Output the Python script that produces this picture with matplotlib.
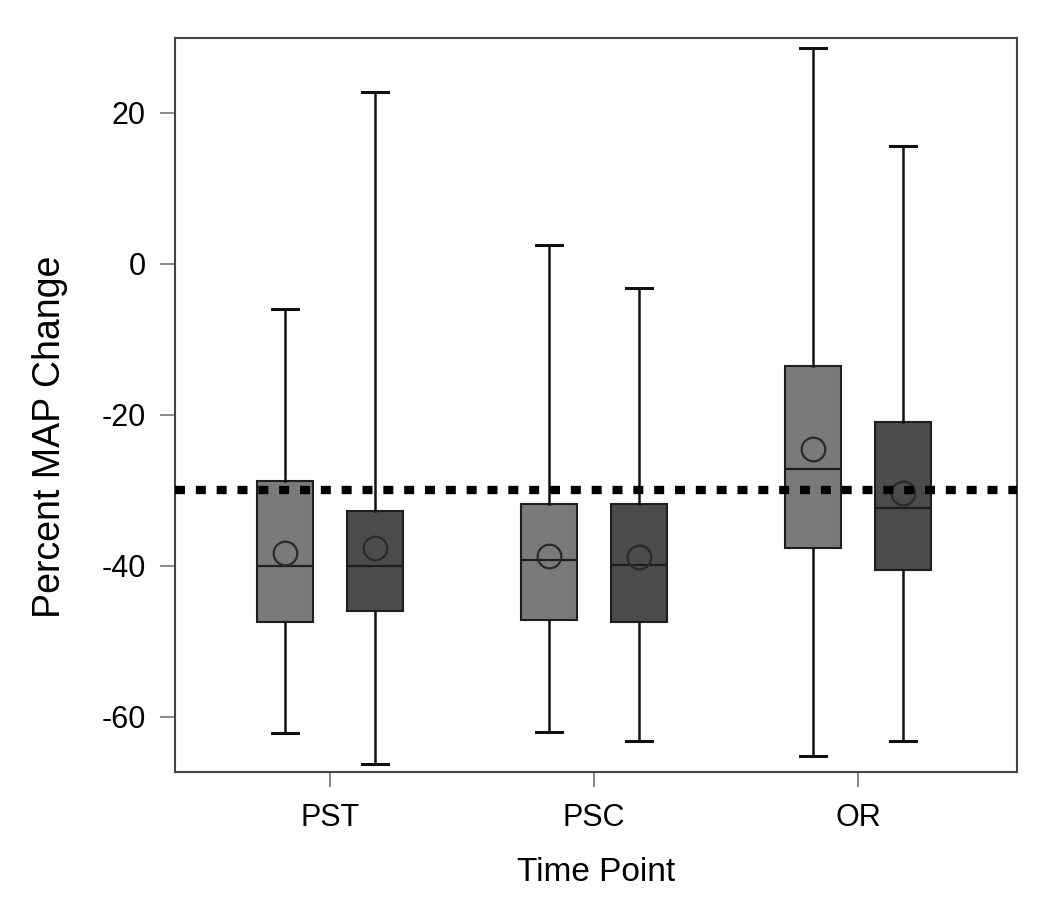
import matplotlib
matplotlib.use("Agg")
import matplotlib.pyplot as plt

plt.rcParams['font.family'] = ['Liberation Sans', 'DejaVu Sans']

categories = ["PST", "PSC", "OR"]
# group A (left, lighter) and group B (right, darker)
a_whislo = [-62.1, -62.0, -65.2]
a_q1 = [-47.4, -47.2, -37.6]
a_med = [-40.0, -39.2, -27.2]
a_q3 = [-28.7, -31.8, -13.6]
a_whishi = [-6.0, 2.5, 28.6]
a_mean = [-38.3, -38.7, -24.5]

b_whislo = [-66.2, -63.2, -63.2]
b_q1 = [-46.0, -47.4, -40.5]
b_med = [-40.0, -39.9, -32.4]
b_q3 = [-32.7, -31.8, -20.9]
b_whishi = [22.8, -3.2, 15.6]
b_mean = [-37.7, -38.8, -30.3]

ref_line = -30
yticks = [20, 0, -20, -40, -60]

fig = plt.figure(figsize=(10.42, 9.16), dpi=100)
ax = fig.add_axes([0.168, 0.1572, 0.808, 0.8013])

def stats(lo, q1, med, q3, hi, mean):
    return [dict(whislo=lo[i], q1=q1[i], med=med[i], q3=q3[i], whishi=hi[i],
                 mean=mean[i], fliers=[]) for i in range(len(lo))]

pos = list(range(1, len(categories) + 1))
off = 0.17
w = 0.212
for st, sh, col in [(stats(a_whislo, a_q1, a_med, a_q3, a_whishi, a_mean), -off, '#7a7a7a'),
                    (stats(b_whislo, b_q1, b_med, b_q3, b_whishi, b_mean), off, '#4b4b4b')]:
    ax.bxp(st, positions=[p + sh for p in pos], widths=w, patch_artist=True,
           showmeans=True, showfliers=False, capwidths=0.1,
           boxprops=dict(facecolor=col, edgecolor='#1e1e1e', linewidth=1.5),
           medianprops=dict(color='#1e1e1e', linewidth=1.6),
           whiskerprops=dict(color='#111111', linewidth=1.8),
           capprops=dict(color='#111111', linewidth=2.2),
           meanprops=dict(marker='o', markersize=17, markerfacecolor='none',
                          markeredgecolor='#2a2a2a', markeredgewidth=1.6))

ax.axhline(ref_line, color='black', linewidth=6, linestyle=(0, (1.2, 1.3)), zorder=10)

ax.set_xlim(0.413, 3.602)
ax.set_ylim(-67.3, 29.9)
ax.set_xticks(pos)
ax.set_xticklabels(categories)
ax.set_yticks(yticks)
ax.set_yticklabels([str(v) for v in yticks])
ax.tick_params(axis='both', labelsize=22, length=11, width=1.2, color='#777777')
ax.tick_params(axis='x', pad=11)
ax.tick_params(axis='y', pad=10)
for s in ax.spines.values():
    s.set_color('#444444')
    s.set_linewidth(1.5)
ax.set_xlabel("Time Point", fontsize=24)
ax.set_ylabel("Percent MAP Change", fontsize=27)
ax.xaxis.set_label_coords(0.5, (772 - 857) / 734, transform=ax.transAxes)
ax.yaxis.set_label_coords((68 - 175) / 842, (772 - 437) / 734, transform=ax.transAxes)

fig.savefig("out.png", dpi=100)
